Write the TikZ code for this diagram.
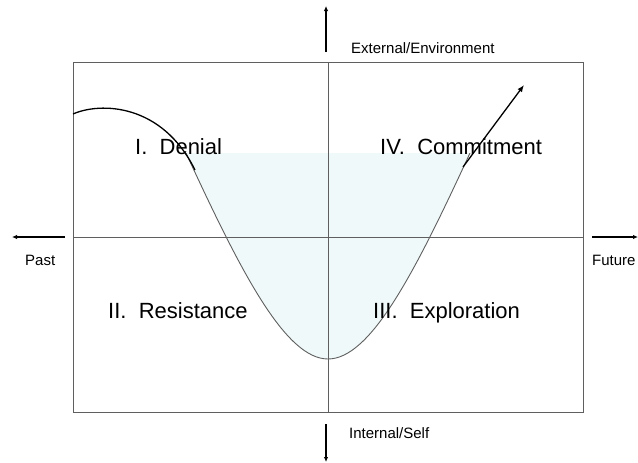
\documentclass[tikz,border=0pt]{standalone}
\usepackage{fontspec}
\setmainfont{Liberation Sans}
\usetikzlibrary{arrows.meta}
\definecolor{gridgray}{RGB}{95,95,95}
\definecolor{paleCyan}{RGB}{240,249,249}
\tikzset{
  frameline/.style={draw=gridgray, line width=0.9pt},
  axisarrow/.style={draw=black, line width=1.3pt, -{Latex[length=5pt,width=4.5pt]}},
  biglabel/.style={font=\fontsize{22}{24}\selectfont, anchor=base west, inner sep=0pt},
  smalllabel/.style={font=\fontsize{15}{17}\selectfont, inner sep=0pt},
  darkcurve/.style={draw=black, line width=1.3pt},
}
\begin{document}
\begin{tikzpicture}[x=1pt,y=-1pt]
\useasboundingbox (0,0) rectangle (638,463);
% fill of the valley
\fill[paleCyan] (186,153) .. controls (240,270) and (285,359) .. (328,359)
  .. controls (371,359) and (416,270) .. (470,153) -- cycle;
% frame and axes
\draw[frameline] (73,62) rectangle (583,412);
\coordinate (vt) at (328,62);
\coordinate (vb) at (328,412);
\coordinate (hl) at (73,237);
\coordinate (hr) at (583,237);
\draw[frameline] (vt) -- (vb);
\draw[frameline] (hl) -- (hr);
% outer arrows
\coordinate (upS) at (326,52);  \coordinate (upE) at (326,6);
\coordinate (dnS) at (326,424); \coordinate (dnE) at (326,462);
\coordinate (lfS) at (65,237);  \coordinate (lfE) at (12,237);
\coordinate (rtS) at (592,237); \coordinate (rtE) at (638,237);
\draw[axisarrow] (upS) -- (upE);
\draw[axisarrow] (dnS) -- (dnE);
\draw[axisarrow] (lfS) -- (lfE);
\draw[axisarrow] (rtS) -- (rtE);
% valley curve
\draw[gridgray, line width=0.9pt] (186,153) .. controls (240,270) and (285,359) .. (328,359)
  .. controls (371,359) and (416,270) .. (470,153);
% denial arc
\coordinate (arcS) at (73,114);
\coordinate (arcE) at (195,170);
\draw[darkcurve] (arcS) .. controls (100,102) and (162,103) .. (arcE);
% commitment arrow
\coordinate (cmS) at (463,167);
\coordinate (cmE) at (524,85);
\draw[darkcurve, -{Latex[length=7pt,width=5.5pt]}] (cmS) -- (cmE);
% labels
\node[biglabel] (denial) at (135,154) {I.\ \ Denial};
\node[biglabel] (commit) at (380,154) {IV.\ \ Commitment};
\node[biglabel] (resist) at (108,318) {II.\ \ Resistance};
\node[biglabel] (explore) at (373,318) {III.\ \ Exploration};
\node[smalllabel, anchor=west] (ext) at (351,48) {External/Environment};
\node[smalllabel, anchor=west] (int) at (349,433) {Internal/Self};
\node[smalllabel, anchor=west] (past) at (25,260) {Past};
\node[smalllabel, anchor=west] (fut) at (592,260) {Future};
\end{tikzpicture}
\end{document}
